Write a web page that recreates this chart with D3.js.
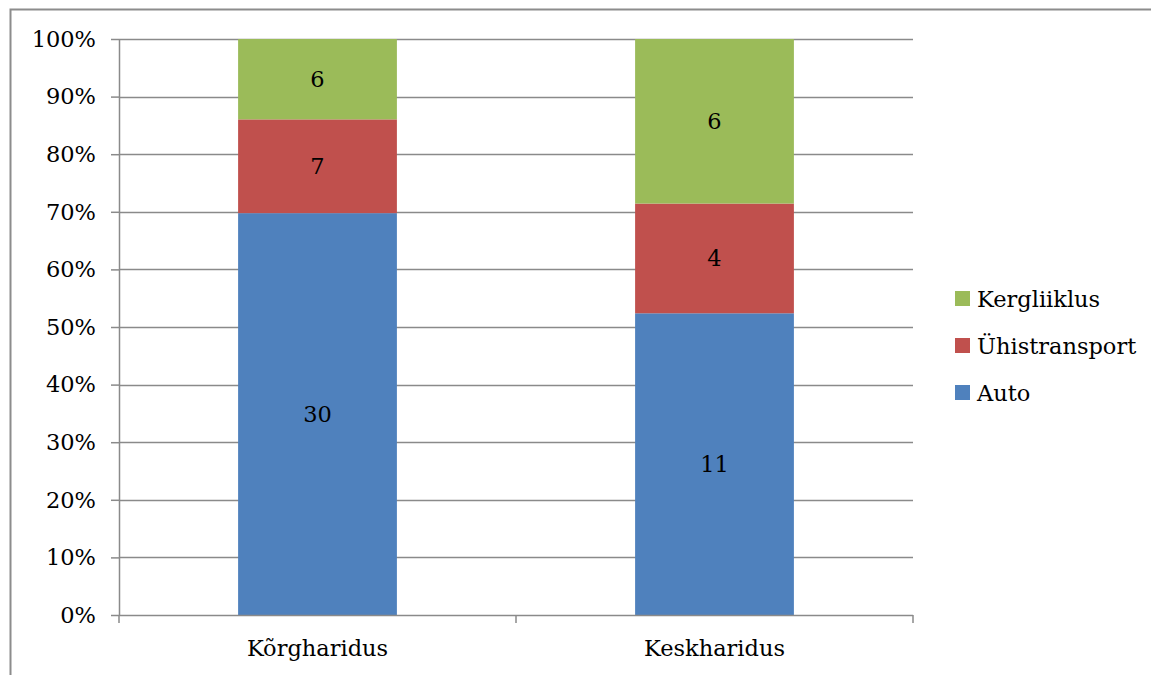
<!DOCTYPE html>
<html>
<head>
<meta charset="utf-8">
<script src="https://cdn.jsdelivr.net/npm/d3@7"></script>
<style>
  body { margin: 0; background: #fff; }
  text { font-family: "DejaVu Serif", serif; }
</style>
</head>
<body>
<svg id="chart" width="1151" height="675"></svg>
<script>
// categories and counts per travel mode
let categories = ["Kõrgharidus", "Keskharidus"];
let modes = ["Auto", "Ühistransport", "Kergliiklus"];
let auto = [30, 11];
let yhis = [7, 4];
let kerg = [6, 6];
let yTicks = [0, 0.1, 0.2, 0.3, 0.4, 0.5, 0.6, 0.7, 0.8, 0.9, 1];
let colors = ["#4F81BD", "#C0504D", "#9BBB59"];

let svg = d3.select("#chart"),
    margin = {top: 39, left: 119, right: 238, bottom: 60},
    width = 913 - margin.left,
    height = 615 - margin.top,
    grid = "#8a8a8a",
    fs = 22.5;

// outer frame
svg.append("rect")
   .attr("x", 10.5).attr("y", 9.5)
   .attr("width", 1200).attr("height", 800)
   .attr("fill", "none").attr("stroke", "#8c8c8c").attr("stroke-width", 2);

let rows = categories.map((c, i) => ({cat: c, Auto: auto[i], "Ühistransport": yhis[i], Kergliiklus: kerg[i]}));
let series = d3.stack().keys(modes).offset(d3.stackOffsetExpand)(rows);

let x = d3.scaleBand().domain(categories).range([0, width]).paddingInner(0.6).paddingOuter(0.3);
let y = d3.scaleLinear().domain([0, 1]).range([height, 0]);

let g = svg.append("g").attr("transform", `translate(${margin.left},${margin.top})`);

// gridlines
g.selectAll(".grid").data(yTicks.slice(1)).enter().append("line")
 .attr("x1", 0).attr("x2", width)
 .attr("y1", d => Math.round(y(d)) + 0.5).attr("y2", d => Math.round(y(d)) + 0.5)
 .attr("stroke", grid).attr("stroke-width", 1.5);

// bars
let layer = g.selectAll(".layer").data(series).enter().append("g")
             .attr("fill", (d, i) => colors[i]);
layer.selectAll("rect").data(d => d).enter().append("rect")
     .attr("x", d => x(d.data.cat))
     .attr("width", x.bandwidth())
     .attr("y", d => y(d[1]))
     .attr("height", d => y(d[0]) - y(d[1]));

// value labels
layer.selectAll("text").data(d => d.map(v => ({v: v, key: d.key}))).enter().append("text")
     .attr("x", d => x(d.v.data.cat) + x.bandwidth() / 2)
     .attr("y", d => (y(d.v[0]) + y(d.v[1])) / 2)
     .attr("dy", "0.35em")
     .attr("text-anchor", "middle")
     .attr("fill", "#000")
     .attr("font-size", fs)
     .text(d => d.v.data[d.key]);

// y axis
let yAxis = g.append("g")
 .call(d3.axisLeft(y).tickValues(yTicks).tickFormat(d3.format(".0%")).tickSize(8).tickPadding(15));
yAxis.selectAll("line").attr("stroke", grid).attr("stroke-width", 1.5);
yAxis.select(".domain").attr("stroke", grid).attr("stroke-width", 1.5).attr("d", `M0.5,0V${height}`);
yAxis.selectAll("text").attr("font-size", fs).attr("fill", "#000").style("font-family", "DejaVu Serif");

// x axis
let xAxis = g.append("g").attr("transform", `translate(0,${height})`);
xAxis.append("line").attr("x1", 0).attr("x2", width).attr("y1", 0.5).attr("y2", 0.5)
     .attr("stroke", grid).attr("stroke-width", 1.5);
xAxis.selectAll(".tk").data([0, width / 2, width]).enter().append("line")
     .attr("x1", d => d).attr("x2", d => d).attr("y1", 0).attr("y2", 8)
     .attr("stroke", grid).attr("stroke-width", 1.5);
xAxis.selectAll("text").data(categories).enter().append("text")
     .attr("x", d => x(d) + x.bandwidth() / 2)
     .attr("y", 41)
     .attr("text-anchor", "middle")
     .attr("font-size", fs)
     .text(d => d);

// legend (reverse order like the original)
let legend = svg.append("g").attr("transform", "translate(955,291)");
let items = modes.map((m, i) => ({m: m, c: colors[i]})).reverse();
let li = legend.selectAll("g").data(items).enter().append("g")
               .attr("transform", (d, i) => `translate(0,${i * 47})`);
li.append("rect").attr("width", 15).attr("height", 15).attr("fill", d => d.c);
li.append("text").attr("x", 22).attr("y", 8).attr("dy", "0.35em")
  .attr("font-size", fs).text(d => d.m);
</script>
</body>
</html>
